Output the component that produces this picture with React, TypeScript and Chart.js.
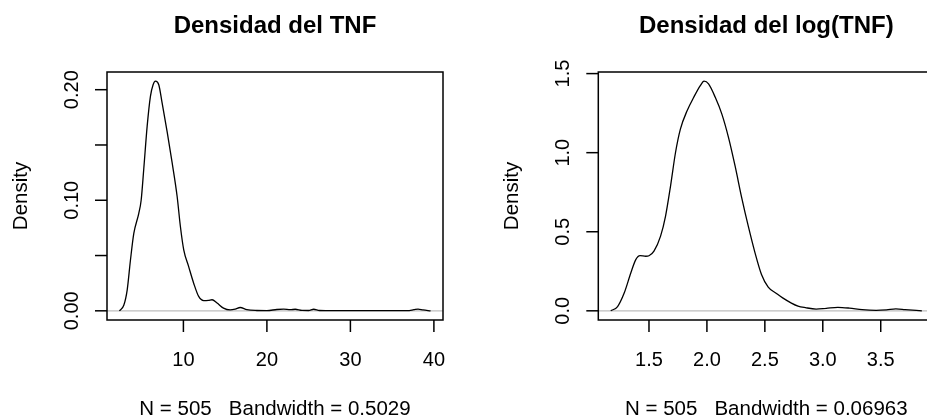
import React, { useEffect, useRef } from "react";
import { Chart, registerables } from "chart.js";
Chart.register(...registerables);

// ---- Data: density of TNF ----
const tnfX = [2.34, 2.86, 3.27, 3.66, 4.06, 4.65, 4.94, 5.25, 5.66, 6.05, 6.37, 6.65, 7.05, 7.45, 8.05, 8.65, 9.25, 9.64, 10.04, 10.63, 11.23, 11.83, 12.43, 13.0, 13.43, 14.03, 14.8, 15.6, 16.2, 16.8, 17.6, 18.8, 20.0, 21.2, 22.0, 22.8, 23.4, 24.2, 25.0, 25.6, 26.3, 28.0, 31.0, 34.0, 36.8, 37.6, 38.1, 38.7, 39.6];
const tnfY = [0.0, 0.005, 0.019, 0.046, 0.07, 0.088, 0.1, 0.128, 0.167, 0.194, 0.2045, 0.2077, 0.2045, 0.188, 0.162, 0.134, 0.1034, 0.0763, 0.0552, 0.04, 0.025, 0.013, 0.0093, 0.0095, 0.01, 0.007, 0.0024, 0.0008, 0.0015, 0.003, 0.001, 0.0003, 0.0002, 0.0012, 0.0015, 0.001, 0.0014, 0.0004, 0.0003, 0.0014, 0.0003, 0.0001, 0.0001, 0.0001, 0.0002, 0.001, 0.0016, 0.0008, 0.0];
const tnfXTicks = [10, 20, 30, 40];
const tnfXTickLabels = ["10", "20", "30", "40"];
const tnfYTicks = [0, 0.05, 0.1, 0.15, 0.2];
const tnfYTickLabels = ["0.00", "", "0.10", "", "0.20"];

// ---- Data: density of log(TNF) ----
const logX = [1.17, 1.229, 1.286, 1.343, 1.386, 1.423, 1.472, 1.5, 1.543, 1.6, 1.643, 1.686, 1.729, 1.771, 1.829, 1.886, 1.943, 1.975, 2.014, 2.072, 2.129, 2.186, 2.243, 2.3, 2.357, 2.414, 2.471, 2.529, 2.6, 2.657, 2.729, 2.786, 2.85, 2.943, 3.03, 3.13, 3.23, 3.34, 3.46, 3.55, 3.63, 3.71, 3.855];
const logY = [0.0, 0.027, 0.112, 0.239, 0.324, 0.349, 0.345, 0.348, 0.377, 0.472, 0.599, 0.789, 1.001, 1.149, 1.265, 1.35, 1.424, 1.452, 1.435, 1.35, 1.244, 1.097, 0.916, 0.716, 0.535, 0.37, 0.23, 0.15, 0.11, 0.08, 0.049, 0.03, 0.02, 0.011, 0.016, 0.022, 0.017, 0.007, 0.003, 0.006, 0.012, 0.008, 0.0];
const logXTicks = [1.5, 2.0, 2.5, 3.0, 3.5];
const logXTickLabels = ["1.5", "2.0", "2.5", "3.0", "3.5"];
const logYTicks = [0, 0.5, 1.0, 1.5];
const logYTickLabels = ["0.0", "0.5", "1.0", "1.5"];

const titles = ["Densidad del TNF", "Densidad del log(TNF)"];
const subs = ["N = 505   Bandwidth = 0.5029", "N = 505   Bandwidth = 0.06963"];
const yLabel = "Density";

const FONT = '"Liberation Sans", Arial, Helvetica, sans-serif';

function ext(arr: number[], lo?: number) {
  const mn = lo !== undefined ? lo : Math.min(...arr);
  const mx = Math.max(...arr);
  const d = (mx - mn) * 0.04;
  return [mn - d, mx + d];
}

type PanelProps = {
  xs: number[];
  ys: number[];
  xTicks: number[];
  xTickLabels: string[];
  yTicks: number[];
  yTickLabels: string[];
  title: string;
  sub: string;
  width: number;
  padLeft: number;
  left: number;
};

function Panel(p: PanelProps) {
  const ref = useRef<HTMLCanvasElement | null>(null);
  useEffect(() => {
    if (!ref.current) return;
    const [xmin, xmax] = ext(p.xs);
    const [ymin, ymax] = ext(p.ys, 0);
    const boxW = 336;
    const rPlugin = {
      id: "rstyle",
      beforeDatasetsDraw(chart: any) {
        const ctx = chart.ctx;
        const a = chart.chartArea;
        const y0 = chart.scales.y.getPixelForValue(0);
        ctx.save();
        ctx.strokeStyle = "#bebebe";
        ctx.lineWidth = 1.2;
        ctx.beginPath();
        ctx.moveTo(a.left, y0);
        ctx.lineTo(a.right, y0);
        ctx.stroke();
        ctx.restore();
      },
      afterDraw(chart: any) {
        const ctx = chart.ctx;
        const a = chart.chartArea;
        const sx = chart.scales.x;
        const sy = chart.scales.y;
        ctx.save();
        ctx.strokeStyle = "#000";
        ctx.fillStyle = "#000";
        ctx.lineWidth = 1.5;
        ctx.strokeRect(a.left, a.top, a.right - a.left, a.bottom - a.top);
        const tl = 12;
        // x ticks
        ctx.font = `20px ${FONT}`;
        ctx.textAlign = "center";
        ctx.textBaseline = "alphabetic";
        p.xTicks.forEach((v, i) => {
          const x = sx.getPixelForValue(v);
          ctx.beginPath();
          ctx.moveTo(x, a.bottom);
          ctx.lineTo(x, a.bottom + tl);
          ctx.stroke();
          ctx.fillText(p.xTickLabels[i], x, a.bottom + 46);
        });
        // y ticks
        p.yTicks.forEach((v, i) => {
          const y = sy.getPixelForValue(v);
          ctx.beginPath();
          ctx.moveTo(a.left, y);
          ctx.lineTo(a.left - tl, y);
          ctx.stroke();
          if (p.yTickLabels[i]) {
            ctx.save();
            ctx.translate(a.left - 29, y);
            ctx.rotate(-Math.PI / 2);
            ctx.fillText(p.yTickLabels[i], 0, 0);
            ctx.restore();
          }
        });
        // y label
        ctx.font = `20.5px ${FONT}`;
        ctx.save();
        ctx.translate(a.left - 80, (a.top + a.bottom) / 2);
        ctx.rotate(-Math.PI / 2);
        ctx.fillText(yLabel, 0, 0);
        ctx.restore();
        // sub
        const cx = (a.left + a.right) / 2;
        ctx.fillText(p.sub, cx, a.bottom + 95);
        // title
        ctx.font = `bold 24px ${FONT}`;
        ctx.fillText(p.title, cx, 33);
        ctx.restore();
      },
    };
    const chart = new Chart(ref.current, {
      type: "line",
      data: {
        datasets: [
          {
            data: p.xs.map((x, i) => ({ x, y: p.ys[i] })),
            borderColor: "#000",
            borderWidth: 1.3,
            pointRadius: 0,
            fill: false,
            cubicInterpolationMode: "monotone",
          },
        ],
      },
      options: {
        animation: false,
        responsive: false,
        devicePixelRatio: 1,
        events: [],
        layout: {
          padding: {
            left: p.padLeft,
            right: p.width - p.padLeft - boxW,
            top: 72,
            bottom: 99,
          },
        },
        plugins: { legend: { display: false }, tooltip: { enabled: false }, title: { display: false } },
        scales: {
          x: { type: "linear", min: xmin, max: xmax, display: false },
          y: { type: "linear", min: ymin, max: ymax, display: false },
        },
      },
      plugins: [rPlugin],
    } as any);
    return () => chart.destroy();
  }, []);
  return (
    <canvas
      ref={ref}
      width={p.width}
      height={419}
      style={{ position: "absolute", left: p.left, top: 0, width: p.width, height: 419 }}
    />
  );
}

export default function App() {
  return (
    <div
      style={{
        position: "fixed",
        left: 0,
        top: 0,
        width: 927,
        height: 419,
        overflow: "hidden",
        background: "#fff",
      }}
    >
      <Panel
        xs={tnfX}
        ys={tnfY}
        xTicks={tnfXTicks}
        xTickLabels={tnfXTickLabels}
        yTicks={tnfYTicks}
        yTickLabels={tnfYTickLabels}
        title={titles[0]}
        sub={subs[0]}
        width={463}
        padLeft={107}
        left={0}
      />
      <Panel
        xs={logX}
        ys={logY}
        xTicks={logXTicks}
        xTickLabels={logXTickLabels}
        yTicks={logYTicks}
        yTickLabels={logYTickLabels}
        title={titles[1]}
        sub={subs[1]}
        width={480}
        padLeft={135.3}
        left={463}
      />
    </div>
  );
}
